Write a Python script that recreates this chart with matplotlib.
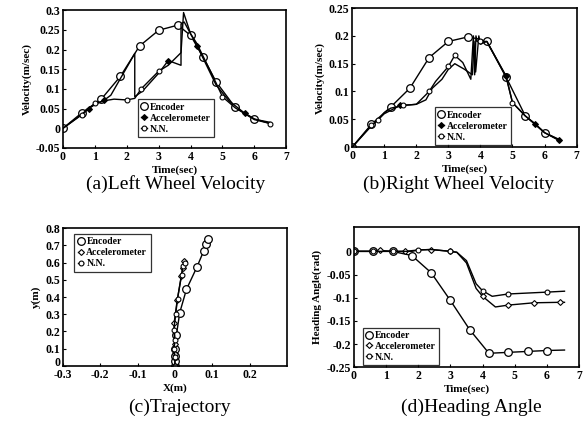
import numpy as np
import matplotlib
matplotlib.use("Agg")
from matplotlib import pyplot as plt
from matplotlib import transforms

plt.rcParams['font.family'] = ['Liberation Serif', 'DejaVu Serif']

# (a) Left wheel velocity
enc_a_t = [0, 0.6, 1.2, 1.8, 2.4, 3.0, 3.6, 4.0, 4.4, 4.8, 5.4, 6.0, 6.5]
enc_a_v = [0, 0.04, 0.074, 0.132, 0.209, 0.249, 0.262, 0.236, 0.18, 0.118, 0.053, 0.023, 0.015]
acc_a_t = [0, 0.5, 0.8, 1.0, 1.3, 1.5, 2.25, 2.25, 2.5, 3.0, 3.3, 3.7, 3.7, 3.8, 4.0, 4.2, 4.5, 4.8, 5.2, 5.7, 6.0, 6.5]
acc_a_v = [0, 0.03, 0.05, 0.06, 0.072, 0.084, 0.19, 0.08, 0.095, 0.14, 0.172, 0.16, 0.265, 0.27, 0.24, 0.21, 0.16, 0.11, 0.07, 0.038, 0.024, 0.012]
nn_a_t = [0, 0.6, 1.0, 1.3, 1.6, 2.0, 2.25, 2.45, 3.0, 3.3, 3.7, 3.78, 4.0, 4.2, 4.8, 5.0, 5.4, 6.0, 6.5]
nn_a_v = [0, 0.035, 0.063, 0.07, 0.074, 0.072, 0.076, 0.1, 0.145, 0.16, 0.192, 0.294, 0.24, 0.215, 0.115, 0.08, 0.052, 0.022, 0.012]

# (b) Right wheel velocity
enc_b_t = [0, 0.6, 1.2, 1.8, 2.4, 3.0, 3.6, 3.9, 4.2, 4.8, 5.4, 6.0, 6.45]
enc_b_v = [0, 0.041, 0.072, 0.106, 0.161, 0.19, 0.198, 0.195, 0.19, 0.126, 0.056, 0.026, 0.014]
acc_b_t = [0, 0.6, 1.0, 1.5, 1.8, 2.0, 2.3, 2.5, 2.8, 3.0, 3.2, 3.5, 3.75, 3.8, 3.85, 3.95, 4.0, 4.2, 4.8, 5.0, 5.4, 5.7, 6.0, 6.45]
acc_b_v = [0, 0.038, 0.06, 0.075, 0.076, 0.077, 0.085, 0.106, 0.122, 0.14, 0.15, 0.14, 0.13, 0.19, 0.135, 0.2, 0.185, 0.19, 0.128, 0.08, 0.056, 0.042, 0.026, 0.012]
nn_b_t = [0, 0.6, 0.8, 1.0, 1.2, 1.6, 2.0, 2.4, 2.6, 3.0, 3.2, 3.45, 3.7, 3.78, 3.82, 3.86, 3.9, 4.0, 4.2, 4.8, 5.0, 5.4, 5.7, 6.0, 6.45]
nn_b_v = [0, 0.04, 0.048, 0.062, 0.07, 0.075, 0.077, 0.1, 0.118, 0.145, 0.165, 0.152, 0.122, 0.2, 0.13, 0.2, 0.19, 0.19, 0.19, 0.126, 0.08, 0.056, 0.042, 0.026, 0.013]

# (c) Trajectory
enc_c_x = [0, 0, 0, 0, 0.004, 0.013, 0.031, 0.059, 0.077, 0.084, 0.09]
enc_c_y = [0, 0.03, 0.06, 0.1, 0.18, 0.31, 0.445, 0.574, 0.667, 0.71, 0.734]
acc_c_x = [0, 0, 0, -0.002, 0.006, 0.017, 0.021, 0.025]
acc_c_y = [0, 0.07, 0.13, 0.25, 0.38, 0.52, 0.57, 0.61]
nn_c_x = [0, 0, -0.002, 0, -0.003, 0.002, 0.007, 0.018, 0.022, 0.026]
nn_c_y = [0, 0.05, 0.1, 0.15, 0.21, 0.3, 0.39, 0.53, 0.58, 0.6]

# (d) Heading angle
enc_d_t = [0, 0.6, 1.2, 1.8, 2.4, 3.0, 3.6, 4.2, 4.8, 5.4, 6.0, 6.55]
enc_d_v = [0, 0, 0, -0.009, -0.046, -0.106, -0.169, -0.22, -0.218, -0.216, -0.214, -0.213]
acc_d_t = [0, 0.6, 0.8, 1.2, 1.6, 2.0, 2.4, 3.0, 3.2, 3.5, 3.8, 4.0, 4.4, 4.8, 5.6, 6.4, 6.55]
acc_d_v = [0, 0, 0.002, 0, 0, 0.003, 0.004, 0, -0.002, -0.025, -0.08, -0.097, -0.12, -0.116, -0.111, -0.11, -0.11]
nn_d_t = [0, 0.6, 1.2, 1.8, 2.0, 2.4, 3.0, 3.2, 3.5, 3.8, 4.0, 4.3, 4.8, 5.4, 6.0, 6.55]
nn_d_v = [0, 0, 0, 0, 0.003, 0.004, 0, -0.002, -0.02, -0.07, -0.085, -0.097, -0.092, -0.09, -0.088, -0.086]

labels = ['Encoder', 'Accelerometer', 'N.N.']


def fmt(v, pos=None):
    if abs(v) < 1e-9:
        return '0'
    return f'{v:g}'


def style(ax, xlim, ylim, xticks, yticks, xlabel, ylabel):
    ax.set_xlim(*xlim)
    ax.set_ylim(*ylim)
    ax.set_xticks(xticks)
    ax.set_yticks(yticks)
    ax.xaxis.set_major_formatter(plt.FuncFormatter(fmt))
    ax.yaxis.set_major_formatter(plt.FuncFormatter(fmt))
    ax.tick_params(direction='in', length=2.5, width=0.8, labelsize=8.5, pad=2)
    for lab in ax.get_xticklabels() + ax.get_yticklabels():
        lab.set_fontweight('bold')
    for sp in ax.spines.values():
        sp.set_linewidth(1.2)
    ax.set_xlabel(xlabel, fontsize=8, fontweight='bold', labelpad=2)
    ax.set_ylabel(ylabel, fontsize=8, fontweight='bold', labelpad=3)


def draw(ax, enc, acc, nn, enc_m, acc_m, nn_m, acc_fill):
    kw = dict(color='black', lw=1.0)
    ax.plot(enc[0], enc[1], marker='o', ms=5.5, mfc='white', mec='black',
            mew=0.9, markevery=enc_m, label=labels[0], **kw)
    ax.plot(acc[0], acc[1], marker='D', ms=3, mfc='black' if acc_fill else 'white',
            mec='black', mew=0.8, markevery=acc_m, label=labels[1], **kw)
    ax.plot(nn[0], nn[1], marker='o', ms=3.5, mfc='white', mec='black',
            mew=0.8, markevery=nn_m, label=labels[2], **kw)


def legend(ax, loc, anchor):
    lg = ax.legend(loc=loc, bbox_to_anchor=anchor, fontsize=7, frameon=True,
                   fancybox=False, edgecolor='black', handlelength=0.6,
                   handletextpad=0.3, borderpad=0.35, labelspacing=0.2,
                   borderaxespad=0)
    lg.get_frame().set_linewidth(0.9)
    for t in lg.get_texts():
        t.set_fontweight('bold')


fig = plt.figure(figsize=(5.86, 4.24), dpi=100)
ax_a = fig.add_axes([0.1075, 0.651, 0.381, 0.325])
ax_b = fig.add_axes([0.601, 0.653, 0.383, 0.328])
ax_c = fig.add_axes([0.1075, 0.137, 0.382, 0.325])
ax_d = fig.add_axes([0.604, 0.134, 0.384, 0.330])

# (a)
draw(ax_a, (enc_a_t, enc_a_v), (acc_a_t, acc_a_v), (nn_a_t, nn_a_v),
     list(range(12)), [2, 4, 10, 15, 19], [1, 2, 5, 7, 8, 15, 18], True)
style(ax_a, (0, 7), (-0.05, 0.3), range(8), np.arange(-0.05, 0.31, 0.05),
      'Time(sec)', 'Velocity(m/sec)')
legend(ax_a, 'lower left', (0.336, 0.08))

# (b)
draw(ax_b, (enc_b_t, enc_b_v), (acc_b_t, acc_b_v), (nn_b_t, nn_b_v),
     [0, 1, 2, 3, 4, 5, 6, 8, 9, 10, 11], [3, 18, 21, 23], [1, 2, 5, 7, 9, 10, 17, 20], True)
style(ax_b, (0, 7), (0, 0.25), range(8), np.arange(0, 0.26, 0.05),
      'Time(sec)', 'Velocity(m/sec)')
legend(ax_b, 'lower left', (0.369, 0.015))

# (c)
draw(ax_c, (enc_c_x, enc_c_y), (acc_c_x, acc_c_y), (nn_c_x, nn_c_y),
     list(range(11)), list(range(8)), list(range(10)), False)
style(ax_c, (-0.3, 0.3), (0, 0.8), np.arange(-0.3, 0.21, 0.1), np.arange(0, 0.81, 0.1),
      'X(m)', 'y(m)')
legend(ax_c, 'upper left', (0.05, 0.957))
# lift the "0" y label a little so it clears the "-0.3" x label
zero_lab = ax_c.get_yticklabels()[0]
zero_lab.set_transform(zero_lab.get_transform() +
                       transforms.ScaledTranslation(0, 4 / 100, fig.dpi_scale_trans))

# (d)
draw(ax_d, (enc_d_t, enc_d_v), (acc_d_t, acc_d_v), (nn_d_t, nn_d_v),
     list(range(11)), [0, 2, 4, 6, 7, 11, 13, 14, 15], [0, 1, 2, 4, 6, 10, 12, 14], False)
style(ax_d, (0, 7), (-0.25, 0.052), range(8), np.arange(-0.25, 0.01, 0.05),
      'Time(sec)', 'Heading Angle(rad)')
legend(ax_d, 'lower left', (0.04, 0.014))

# captions
fig.text(0.30, 1 - 184 / 424, '(a)Left Wheel Velocity', ha='center', va='center', fontsize=14)
fig.text(0.782, 1 - 184 / 424, '(b)Right Wheel Velocity', ha='center', va='center', fontsize=14)
fig.text(0.307, 1 - 407 / 424, '(c)Trajectory', ha='center', va='center', fontsize=14)
fig.text(0.805, 1 - 407 / 424, '(d)Heading Angle', ha='center', va='center', fontsize=14)

fig.savefig('out.png', dpi=100)
